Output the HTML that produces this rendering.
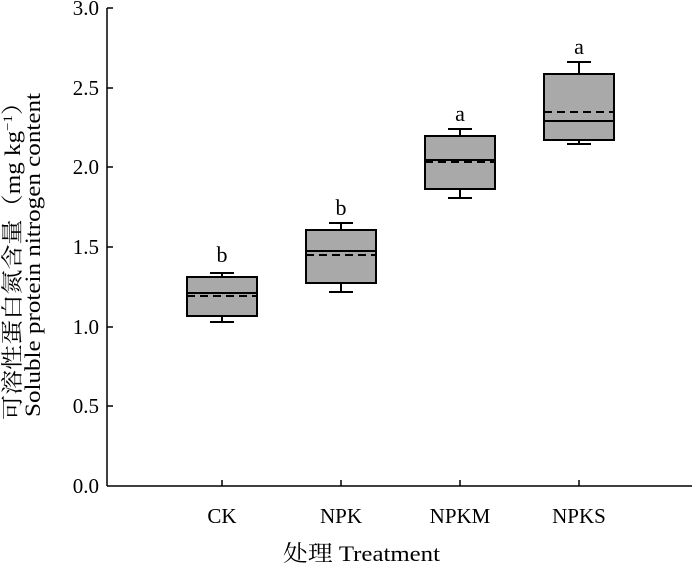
<!DOCTYPE html>
<html><head><meta charset="utf-8"><style>body{margin:0;background:#fff}</style></head><body>
<svg width="700" height="567" xmlns="http://www.w3.org/2000/svg" font-family="'Liberation Serif','Noto Serif CJK SC',serif" fill="#000">
<g stroke="#000" stroke-width="1.5">
<line x1="107" y1="8" x2="107" y2="486"/>
<line x1="107" y1="486" x2="692" y2="486"/>
<line x1="107" y1="8" x2="113" y2="8"/><line x1="107" y1="88" x2="113" y2="88"/>
<line x1="107" y1="167" x2="113" y2="167"/><line x1="107" y1="247" x2="113" y2="247"/>
<line x1="107" y1="327" x2="113" y2="327"/><line x1="107" y1="406" x2="113" y2="406"/>
<line x1="222" y1="486" x2="222" y2="480"/><line x1="341" y1="486" x2="341" y2="480"/>
<line x1="460" y1="486" x2="460" y2="480"/><line x1="579" y1="486" x2="579" y2="480"/>
</g>
<g font-size="21" text-anchor="end">
<text x="99" y="15">3.0</text><text x="99" y="95">2.5</text><text x="99" y="174">2.0</text>
<text x="99" y="254">1.5</text><text x="99" y="334">1.0</text><text x="99" y="413">0.5</text><text x="99" y="493">0.0</text>
</g>
<g font-size="21" text-anchor="middle">
<text x="222" y="523">CK</text><text x="341" y="523">NPK</text><text x="460" y="523">NPKM</text><text x="579" y="523">NPKS</text>
</g>
<text x="283" y="561" font-size="22" textLength="157" lengthAdjust="spacingAndGlyphs">处理 Treatment</text>
<g font-size="22" transform="rotate(-90)">
<text x="-420" y="20" textLength="330" lengthAdjust="spacingAndGlyphs">可溶性蛋白氮含量（mg kg<tspan font-size="13" dy="-8">−1</tspan><tspan dy="8">）</tspan></text>
<text x="-417" y="40" textLength="324" lengthAdjust="spacingAndGlyphs">Soluble protein nitrogen content</text>
</g>
<g stroke="#000" stroke-width="2" fill="#a9a9a9">
<line x1="222" y1="273" x2="222" y2="322"/><line x1="210" y1="273" x2="234" y2="273"/><line x1="210" y1="322" x2="234" y2="322"/>
<rect x="187" y="277" width="70" height="39"/>
<line x1="187" y1="293" x2="257" y2="293"/><line x1="187" y1="296" x2="257" y2="296" stroke-dasharray="8,5"/>
<line x1="341" y1="223" x2="341" y2="292"/><line x1="329" y1="223" x2="353" y2="223"/><line x1="329" y1="292" x2="353" y2="292"/>
<rect x="306" y="230" width="70" height="53"/>
<line x1="306" y1="251" x2="376" y2="251"/><line x1="306" y1="255" x2="376" y2="255" stroke-dasharray="8,5"/>
<line x1="460" y1="129" x2="460" y2="198"/><line x1="448" y1="129" x2="472" y2="129"/><line x1="448" y1="198" x2="472" y2="198"/>
<rect x="425" y="136" width="70" height="53"/>
<line x1="425" y1="160" x2="495" y2="160"/><line x1="425" y1="162" x2="495" y2="162" stroke-dasharray="8,5"/>
<line x1="579" y1="62" x2="579" y2="144"/><line x1="567" y1="62" x2="591" y2="62"/><line x1="567" y1="144" x2="591" y2="144"/>
<rect x="544" y="74" width="70" height="66"/>
<line x1="544" y1="121" x2="614" y2="121"/><line x1="544" y1="112" x2="614" y2="112" stroke-dasharray="8,5"/>
</g>
<g font-size="22" text-anchor="middle">
<text x="222" y="262">b</text><text x="341" y="215">b</text><text x="460" y="121">a</text><text x="579" y="54">a</text>
</g>
</svg>
</body></html>
